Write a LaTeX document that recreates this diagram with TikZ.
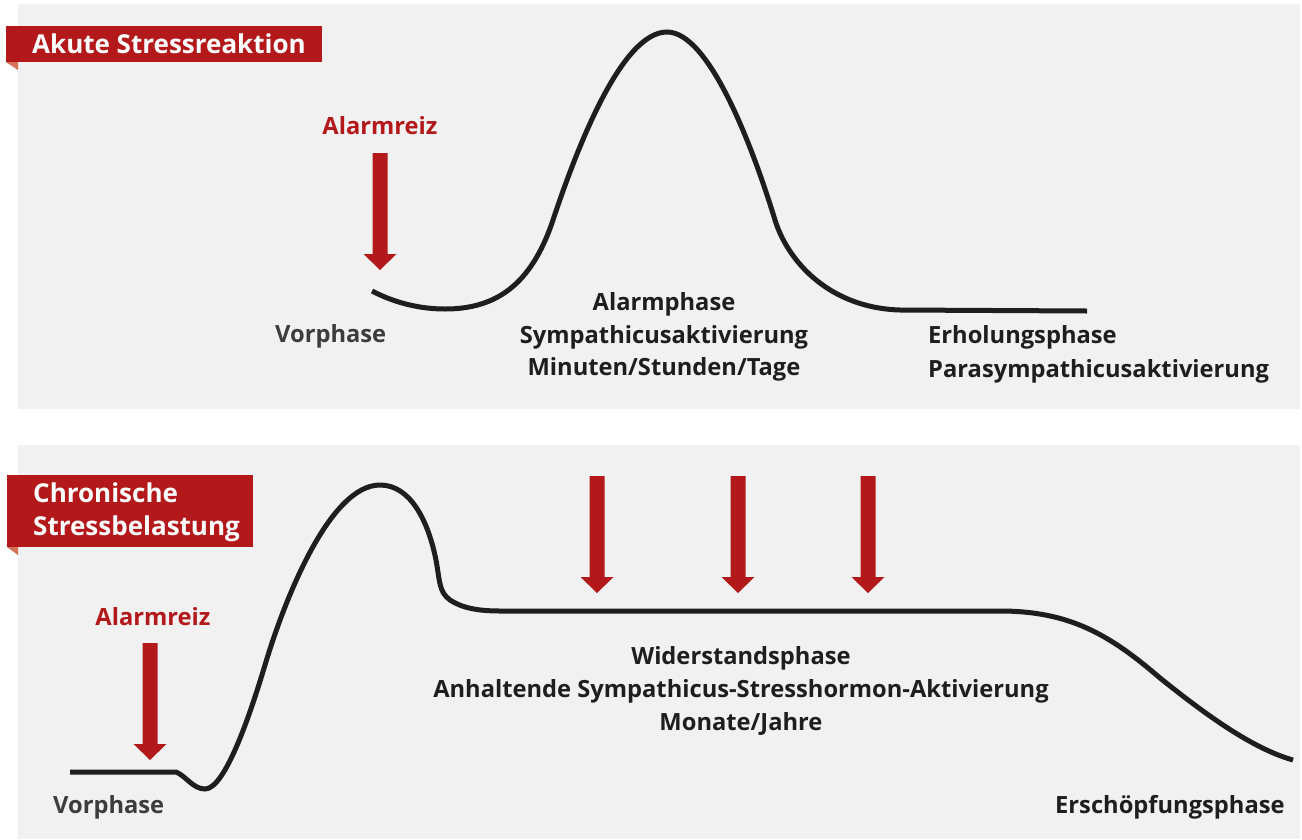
\documentclass[tikz,border=0pt]{standalone}
\usepackage{fontspec}
\setmainfont{Open Sans}
\definecolor{panel}{HTML}{F1F1F1}
\definecolor{alarm}{HTML}{B3191B}
\definecolor{fold}{HTML}{D4735A}
\definecolor{ink}{HTML}{1E1E1E}
\definecolor{greyink}{HTML}{3C3C3C}
\begin{document}
\begin{tikzpicture}[x=1pt,y=-1pt,
  lbl/.style={font=\fontsize{23.7}{28}\selectfont\bfseries, text=ink, inner sep=0pt},
  redlbl/.style={lbl, text=alarm},
  greylbl/.style={lbl, text=greyink},
  ribtext/.style={font=\fontsize{26}{33}\selectfont\bfseries, text=white, inner sep=0pt},
  ribbon/.style={fill=alarm, draw=none, inner sep=0pt, anchor=north west},
  curve/.style={line width=5pt, draw=ink},
  redarrow/.pic={\fill[alarm] (-7.5,0) -- (7.5,0) -- (7.5,101) -- (16.5,101) -- (0,117) -- (-16.5,101) -- (-7.5,101) -- cycle;}
]
\useasboundingbox (0,0) rectangle (1302,839);
\fill[white] (0,0) rectangle (1302,839);
% panels
\fill[panel] (18,4) rectangle (1300,409);
\fill[panel] (18,445) rectangle (1300,839);

% ribbons
\fill[fold] (6,62) -- (18,62) -- (18,70) -- cycle;
\node[ribbon, minimum width=316pt, minimum height=36pt] (rib1) at (6,26) {};
\node[ribtext, anchor=base west] (rib1t) at (32,53) {Akute Stressreaktion};

\fill[fold] (7,547) -- (18,547) -- (18,555) -- cycle;
\node[ribbon, minimum width=246pt, minimum height=72pt] (rib2) at (7,475) {};
\node[ribtext, anchor=base west] (rib2a) at (33,502) {Chronische};
\node[ribtext, anchor=base west] (rib2b) at (33,535) {Stressbelastung};

% ---- top panel ----
\node[redlbl, anchor=base] (alarm1) at (380,134) {Alarmreiz};
\coordinate (a1) at (380,153);
\pic at (a1) {redarrow};

\draw[curve] (372,291) .. controls (395,303) and (420,309) .. (445,309)
  .. controls (495,309) and (531,286) .. (553,220)
  .. controls (578,145) and (622,32) .. (667,32)
  .. controls (709,32) and (752,145) .. (775,220)
  .. controls (788,262) and (830,308) .. (900,310)
  -- (1087,311);

\node[greylbl, anchor=base west] (vor1) at (275,342) {Vorphase};
\node[lbl, anchor=base] (ap1) at (664,310) {Alarmphase};
\node[lbl, anchor=base] (ap2) at (664,343) {Sympathicusaktivierung};
\node[lbl, anchor=base] (ap3) at (664,375) {Minuten/Stunden/Tage};
\node[lbl, anchor=base west] (er1) at (928,343) {Erholungsphase};
\node[lbl, anchor=base west] (er2) at (928,377) {Parasympathicusaktivierung};

% ---- bottom panel ----
\node[redlbl, anchor=base] (alarm2) at (153,625) {Alarmreiz};
\coordinate (a2) at (150,643);
\pic at (a2) {redarrow};
\coordinate (a3) at (597,476);
\pic at (a3) {redarrow};
\coordinate (a4) at (738,476);
\pic at (a4) {redarrow};
\coordinate (a5) at (868,476);
\pic at (a5) {redarrow};

\draw[curve] (70,772) -- (176,772)
  .. controls (186,776) and (193,789) .. (205,789)
  .. controls (225,789) and (250,715) .. (265,665)
  .. controls (285,598) and (330,485) .. (380,485)
  .. controls (410,485) and (428,520) .. (436,560)
  .. controls (440,582) and (439,592) .. (450,600)
  .. controls (462,608) and (478,611) .. (500,611)
  -- (1000,611)
  .. controls (1070,611) and (1110,635) .. (1160,678)
  .. controls (1200,710) and (1250,748) .. (1293,760);

\node[greylbl, anchor=base west] (vor2) at (53,813) {Vorphase};
\node[lbl, anchor=base] (wp1) at (741,664) {Widerstandsphase};
\node[lbl, anchor=base] (wp2) at (741,697) {Anhaltende Sympathicus-Stresshormon-Aktivierung};
\node[lbl, anchor=base] (wp3) at (741,730) {Monate/Jahre};
\node[lbl, anchor=base west] (ex1) at (1055,813) {Erschöpfungsphase};
\end{tikzpicture}
\end{document}
